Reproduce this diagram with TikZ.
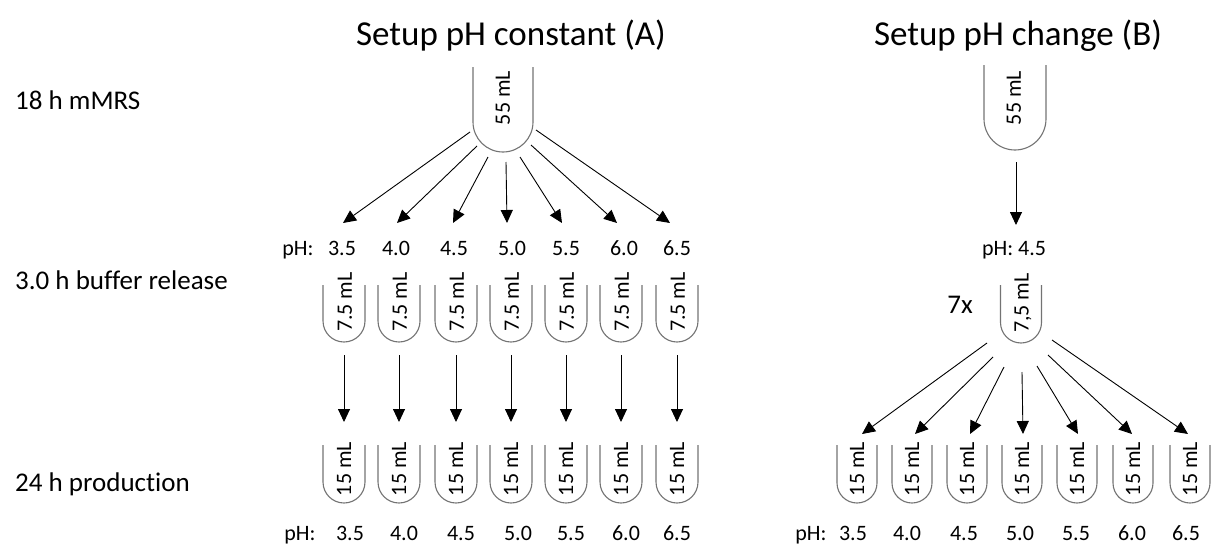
\documentclass[tikz,border=0pt]{standalone}
\usepackage{fontspec}
\setmainfont{Carlito}[Ligatures=NoCommon]
\usetikzlibrary{arrows.meta}
\tikzset{
  tubebox/.style={rectangle,inner sep=0pt,outer sep=0pt,draw=none},
  tubeline/.style={draw=black!55,line width=1.1pt},
  arr/.style={draw=black,line width=0.9pt,-{Triangle[length=13pt,width=12pt]}},
  titletext/.style={font=\fontsize{35}{42}\selectfont,inner sep=0pt},
  rowtext/.style={font=\fontsize{27}{32}\selectfont,inner sep=0pt,anchor=west},
  small/.style={font=\fontsize{22}{26}\selectfont,inner sep=0pt,anchor=base},
  vol/.style={font=\fontsize{22}{26}\selectfont,inner sep=0pt,rotate=90}
}
% name, cx, top, width, height, radius
\newcommand\tubeat[6]{%
  \node[tubebox,minimum width=#4pt,minimum height=#5pt,anchor=north] (#1) at (#2,#3) {};
  \draw[tubeline] (#1.north west) -- ([yshift=#6pt]#1.south west)
     arc[start angle=180,end angle=360,radius=#6pt] -- (#1.north east);}
\begin{document}
\begin{tikzpicture}[x=1pt,y=-1pt]
\useasboundingbox (0,0) rectangle (1211,544);

% titles
\node[titletext] (titleA) at (511,36) {Setup pH constant (A)};
\node[titletext] (titleB) at (1018,36) {Setup pH change (B)};

% row labels
\node[rowtext] (row1) at (15,100) {18 h mMRS};
\node[rowtext] (row2) at (15,280) {3.0 h buffer release};
\node[rowtext] (row3) at (15,484) {24 h production};

% big tubes
\tubeat{tA}{503}{67}{60}{85}{30}
\node[vol] (vA) at (503,98) {55 mL};
\tubeat{tB}{1015}{65}{62}{85}{31}
\node[vol] (vB) at (1014,98) {55 mL};

% setup A: pH row
\node[small] (phA) at (298,255) {pH:};
\foreach \x/\t [count=\i] in {342/3.5,396/4.0,454/4.5,512/5.0,566/5.5,624/6.0,677/6.5}
  \node[small] (phA\i) at (\x,255) {\t};

% arrow ends A
\foreach \x [count=\i] in {343,397,453,507,562,617,670}
  \coordinate (eA\i) at (\x,223);
\foreach \dx/\dy [count=\i] in {-33/-20,-26/-6,-15/5,3/10,17/5,28/-7,33/-22}
  \draw[arr] ([shift={(\dx,\dy)}]tA.south) -- (eA\i);

% A small tubes
\foreach \x [count=\i] in {344,399,456,511,566,621,677}{
  \tubeat{sA\i}{\x}{285}{42}{57}{21}
  \node[vol] (vsA\i) at (\x+1,302) {7.5 mL};
  \tubeat{pA\i}{\x}{445}{42}{58}{21}
  \node[vol] (vpA\i) at (\x,469) {15 mL};
  \draw[arr] ([yshift=-13pt]sA\i.south) -- ([yshift=23pt]pA\i.north);
}

% A bottom pH row
\node[small] (phAb) at (300,540) {pH:};
\foreach \x/\t [count=\i] in {350/3.5,404/4.0,461/4.5,518/5.0,571/5.5,626/6.0,677/6.5}
  \node[small] (phAb\i) at (\x,540) {\t};

% setup B
\node[small] (phB) at (1014,255) {pH: 4.5};
\coordinate (eB0) at (1016,225);
\draw[arr] ([shift={(1,12)}]tB.south) -- (eB0);
\tubeat{sB}{1021}{285}{41}{58}{20.5}
\node[vol] (vsB) at (1023,303) {7,5 mL};
\node[rowtext,anchor=center] (seven) at (960,305) {7x};

\foreach \x [count=\i] in {857,912,967,1022,1077,1133,1190}{
  \tubeat{pB\i}{\x}{445}{40}{58}{20}
  \node[vol] (vpB\i) at (\x,469) {15 mL};
}
\foreach \x [count=\i] in {862,915,970,1023,1078,1132,1188}
  \coordinate (eB\i) at (\x,434);
\foreach \dx/\dy [count=\i] in {-34/0,-28/14,-17/24,1/29,16/23,27/12,31/-3}
  \draw[arr] ([shift={(\dx,\dy)}]sB.south) -- (eB\i);

\node[small] (phBb) at (811,540) {pH:};
\foreach \x/\t [count=\i] in {853/3.5,907/4.0,964/4.5,1020/5.0,1076/5.5,1132/6.0,1186/6.5}
  \node[small] (phBb\i) at (\x,540) {\t};
\end{tikzpicture}
\end{document}
